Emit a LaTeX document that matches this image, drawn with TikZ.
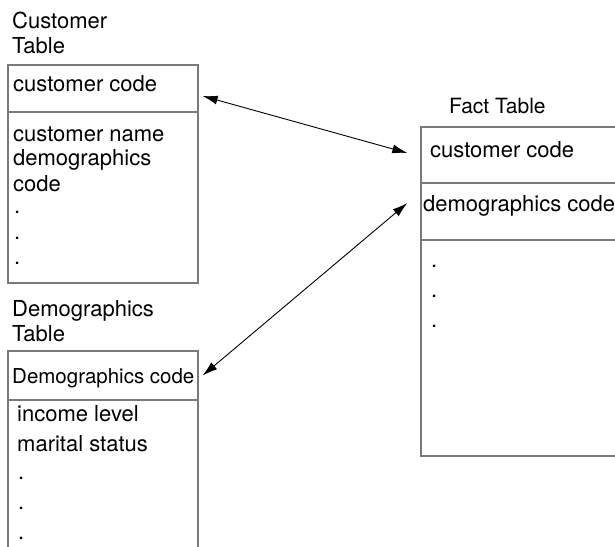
\documentclass[tikz,border=0pt]{standalone}
\usepackage{fontspec}
\setmainfont{TeX Gyre Heros}
\usetikzlibrary{arrows.meta}
\definecolor{boxgray}{HTML}{7A7A7A}
\begin{document}
\begin{tikzpicture}[x=1pt,y=-1pt,
  tbl/.style={draw=boxgray, line width=1.3pt, inner sep=0pt, minimum width=#1},
  tbl/.default=190pt,
  lbl/.style={anchor=base west, inner sep=0pt, font=\fontsize{22}{25}\selectfont},
  link/.style={{Latex[length=15pt,width=9pt]}-{Latex[length=15pt,width=9pt]}, line width=0.9pt, black}]
\path[use as bounding box] (0,0) rectangle (615,546);
\clip (0,0) rectangle (615,546);

% Customer table
\node[tbl, minimum height=47pt] (custKey) at (103,88.5) {};
\node[tbl, minimum height=171pt] (custRest) at (103,197.5) {};
\node[lbl] (custT1) at (12,28) {Customer};
\node[lbl] (custT2) at (12,53) {Table};
\node[lbl] (custK) at (13,91) {customer code};
\node[lbl] (custA) at (13,141) {customer name};
\node[lbl] (custB) at (13,165) {demographics};
\node[lbl] (custC) at (13,191) {code};
\node[lbl] (custD1) at (14,213) {.};
\node[lbl] (custD2) at (14,239) {.};
\node[lbl] (custD3) at (14,264) {.};

% Demographics table
\node[tbl, minimum height=49pt] (demKey) at (103,375.5) {};
\node[tbl, minimum height=160pt] (demRest) at (103,480) {};
\node[lbl] (demT1) at (12,316) {Demographics};
\node[lbl] (demT2) at (12,341) {Table};
\node[lbl, font=\fontsize{20.5}{25}\selectfont] (demK) at (12,383) {Demographics code};
\node[lbl] (demA) at (17,421) {income level};
\node[lbl] (demB) at (17,451) {marital status};
\node[lbl] (demD1) at (18,479) {.};
\node[lbl] (demD2) at (18,509) {.};
\node[lbl] (demD3) at (18,539) {.};

% Fact table
\node[tbl=204pt, minimum height=56pt] (factKey) at (523,155) {};
\node[tbl=204pt, minimum height=57pt] (factDem) at (523,211.5) {};
\node[tbl=204pt, minimum height=216pt] (factRest) at (523,348) {};
\node[lbl, font=\fontsize{21}{25}\selectfont] (factT) at (449,113) {Fact Table};
\node[lbl] (factK) at (430,157) {customer code};
\node[lbl] (factD) at (423,211) {demographics code};
\node[lbl] (factD1) at (431,267) {.};
\node[lbl] (factD2) at (431,297) {.};
\node[lbl] (factD3) at (431,327) {.};

% Connectors
\coordinate (a1) at ([shift={(4,7.5)}]custKey.east);
\coordinate (a2) at ([shift={(-13,-2)}]factKey.west);
\coordinate (a3) at ([shift={(-13,-8.5)}]factDem.west);
\coordinate (a4) at ([shift={(4,0)}]demKey.east);
\draw[link] (a1) -- (a2);
\draw[link] (a3) -- (a4);
\end{tikzpicture}
\end{document}
